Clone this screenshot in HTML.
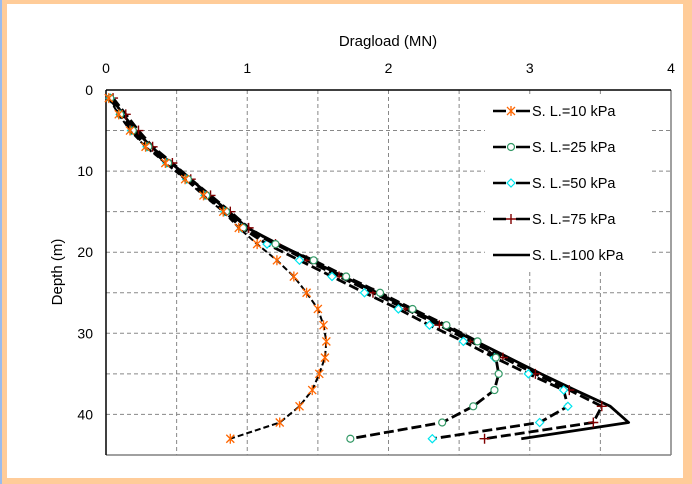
<!DOCTYPE html>
<html><head><meta charset="utf-8"><style>
html,body{margin:0;padding:0;background:#ffcc99;}
svg{display:block;font-family:"Liberation Sans",Arial,sans-serif;}
</style></head><body>
<svg width="692" height="484" viewBox="0 0 692 484">
<rect x="0" y="0" width="692" height="484" fill="#ffcc99"/>
<rect x="0" y="0" width="2" height="484" fill="#99bbee"/>
<rect x="7" y="4" width="676" height="474" fill="#ffffff"/>
<g id="grid"></g>
<rect x="485" y="95" width="165" height="175" fill="#fff"/>
<line x1="671" y1="90" x2="671" y2="455" stroke="#808080" stroke-width="1.5"/>
<line x1="106" y1="455" x2="671" y2="455" stroke="#808080" stroke-width="1.5"/>
<line x1="106" y1="90" x2="671" y2="90" stroke="#000" stroke-width="1.5"/>
<line x1="106" y1="90" x2="106" y2="455" stroke="#000" stroke-width="1.5"/>
<g id="axes"></g>
<text x="388" y="46" font-size="15" text-anchor="middle">Dragload (MN)</text>
<text x="62" y="272" font-size="15" text-anchor="middle" transform="rotate(-90 62 272)">Depth (m)</text>
<g id="series"></g>
<g id="legend"></g>
</svg>
<script>
const depths = [1,3,5,7,9,11,13,15,17,19,21,23,25,27,29,31,33,35,37,39,41,43];
const sl10 = [0.02,0.09,0.17,0.28,0.42,0.56,0.69,0.83,0.94,1.07,1.21,1.33,1.42,1.50,1.54,1.56,1.55,1.51,1.46,1.37,1.23,0.88];
const sl25 = [0.03,0.10,0.19,0.30,0.44,0.58,0.71,0.85,0.97,1.20,1.47,1.70,1.94,2.17,2.41,2.63,2.76,2.78,2.75,2.60,2.38,1.73];
const sl50 = [0.03,0.10,0.18,0.29,0.43,0.57,0.70,0.84,0.96,1.14,1.37,1.60,1.83,2.07,2.29,2.53,2.75,2.99,3.24,3.27,3.07,2.31];
const sl75 = [0.05,0.14,0.23,0.33,0.47,0.60,0.74,0.88,1.01,1.20,1.42,1.65,1.89,2.12,2.36,2.58,2.81,3.04,3.28,3.51,3.45,2.68];
const sl100 = [0.04,0.12,0.21,0.32,0.46,0.60,0.73,0.87,1.00,1.22,1.45,1.68,1.92,2.15,2.39,2.62,2.85,3.08,3.32,3.57,3.70,2.94];
const xTicks = [0,1,2,3,4];
const yTicks = [0,10,20,30,40];
const legendLabels = ["S. L.=10 kPa","S. L.=25 kPa","S. L.=50 kPa","S. L.=75 kPa","S. L.=100 kPa"];

const NS="http://www.w3.org/2000/svg";
const X0=106,X1=671,XMAX=4,Y0=90,YPX=8.11;
function sx(v){return X0+v*(X1-X0)/XMAX;}
function sy(d){return Y0+d*YPX;}
function mk(tag,attrs,parent){const e=document.createElementNS(NS,tag);for(const k in attrs)e.setAttribute(k,attrs[k]);parent.appendChild(e);return e;}

const grid=document.getElementById('grid');
for(let v=0.5;v<4;v+=0.5){
  const l=mk('line',{x1:sx(v),y1:Y0,x2:sx(v),y2:455,stroke:'#888','stroke-width':1,'stroke-dasharray':'4,3'},grid);
  
  
}
for(let d=5;d<45;d+=5){
  const l=mk('line',{x1:X0,y1:sy(d),x2:X1,y2:sy(d),stroke:'#888','stroke-width':1,'stroke-dasharray':'4,3'},grid);
  
  
}
const axes=document.getElementById('axes');
xTicks.forEach(t=>{
  const e=mk('text',{x:sx(t),y:73,'font-size':14,'text-anchor':'middle'},axes);e.textContent=t;
  
  
});
yTicks.forEach(t=>{
  const e=mk('text',{x:93,y:sy(t)+5,'font-size':14,'text-anchor':'end'},axes);e.textContent=t;
  
  
});

const S=document.getElementById('series');
function marker(type,x,y,g){
  let e;
  if(type==='ast'){e=mk('path',{d:`M${x-4},${y-4}L${x+4},${y+4}M${x+4},${y-4}L${x-4},${y+4}M${x},${y-5}L${x},${y+5}`,stroke:'#ff6600','stroke-width':1.3,fill:'none'},g);}
  else if(type==='circ'){e=mk('circle',{cx:x,cy:y,r:3.5,fill:'#fff',stroke:'#339966','stroke-width':1.2},g);}
  else if(type==='dia'){e=mk('path',{d:`M${x},${y-4}L${x+4},${y}L${x},${y+4}L${x-4},${y}Z`,fill:'#fff',stroke:'#00e5ee','stroke-width':1.2},g);}
  else if(type==='plus'){e=mk('path',{d:`M${x-5},${y}L${x+5},${y}M${x},${y-5}L${x},${y+5}`,stroke:'#800000','stroke-width':1.4,fill:'none'},g);}
  if(e){
  }
}
const defs=[
 {vals:sl100,m:null,dash:null,w:2.8,name:'series-100kpa'},
 {vals:sl75,m:'plus',dash:'10,4',w:2.8,name:'series-75kpa'},
 {vals:sl50,m:'dia',dash:'10,4',w:2.8,name:'series-50kpa'},
 {vals:sl25,m:'circ',dash:'10,4',w:2.8,name:'series-25kpa'},
 {vals:sl10,m:'ast',dash:'6,3',w:2,name:'series-10kpa'}
];
defs.forEach(s=>{
  const g=mk('g',{},S);
  
  
  const pts=depths.map((d,i)=>sx(s.vals[i])+','+sy(d)).join(' ');
  const a={points:pts,fill:'none',stroke:'#000','stroke-width':s.w,'stroke-linejoin':'round'};
  if(s.dash)a['stroke-dasharray']=s.dash;
  const pl=mk('polyline',a,g);
  
  
  if(s.m)depths.forEach((d,i)=>marker(s.m,sx(s.vals[i]),sy(d),g));
});

const L=document.getElementById('legend');
const lm=['ast','circ','dia','plus',null];
legendLabels.forEach((lab,i)=>{
  const y=111+i*36;
  const g=mk('g',{},L);
  
  
  mk('line',{x1:493,y1:y,x2:530,y2:y,stroke:'#000','stroke-width':2.6},g);
  if(lm[i]){mk('rect',{x:506,y:y-3,width:10,height:6,fill:'#fff'},g);marker(lm[i],511,y,g);}
  const t=mk('text',{x:532,y:y+5,'font-size':14.5},g);t.textContent=lab;
});
</script>
</body></html>
